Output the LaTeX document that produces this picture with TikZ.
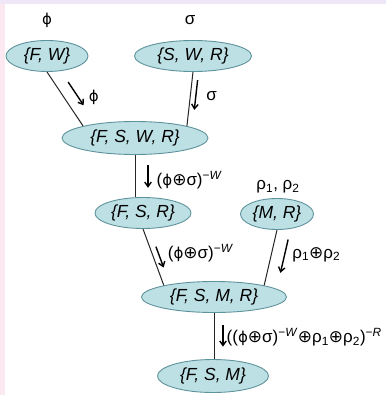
\documentclass[tikz,border=0pt]{standalone}
\usepackage{fontspec}
\setmainfont{Liberation Sans}
\newfontfamily\dejavu{DejaVu Sans}
\usepackage{tikz}
\usetikzlibrary{arrows.meta,calc,shapes.geometric}
\definecolor{cliquefill}{HTML}{BDE0E4}
\definecolor{cliqueedge}{HTML}{5F939C}
\definecolor{bandlilac}{HTML}{EFE6F7}
\definecolor{bandpink}{HTML}{FCE8F0}
\newcommand{\mrg}{{\dejavu ⊕}}
\newcommand{\phis}{{\dejavu\fontsize{15}{18}\selectfont ϕ}}
\newcommand{\mnus}[1]{\textsuperscript{−\textit{#1}}}

\begin{document}
\begin{tikzpicture}[x=1pt,y=-1pt,>={Straight Barb[length=4.5pt,width=6.5pt]},
    clique/.style={ellipse,draw=cliqueedge,fill=cliquefill,line width=0.9pt,
      inner sep=0pt,font=\fontsize{17.5}{20}\selectfont\itshape},
    link/.style={draw=black!85,line width=1pt},
    msg/.style={->,line width=1.4pt},
    lbl/.style={font=\fontsize{17}{20}\selectfont,inner sep=1pt}]
    % Page with its coloured edges.
    \useasboundingbox (0,0) rectangle (386,395);
    \fill[white] (0,0) rectangle (386,395);
    \fill[bandpink] (0,0) rectangle (5,395);
    \fill[bandlilac] (0,0) rectangle (386,4);

    % Cliques of the junction tree.
    \node[clique,minimum width=82,minimum height=31] (FW) at (47,56) {\{F, W\}};
    \node[clique,minimum width=117,minimum height=31] (SWR) at (193,56) {\{S, W, R\}};
    \node[clique,minimum width=146,minimum height=33] (FSWR) at (135,138) {\{F, S, W, R\}};
    \node[clique,minimum width=96,minimum height=31] (FSR) at (143,213) {\{F, S, R\}};
    \node[clique,minimum width=73,minimum height=31] (MR) at (277,214) {\{M, R\}};
    \node[clique,minimum width=145,minimum height=31] (FSMR) at (214,297) {\{F, S, M, R\}};
    \node[clique,minimum width=111,minimum height=33] (FSM) at (213,376) {\{F, S, M\}};

    % Potentials attached to the leaves.
    \node[lbl] (phi) at (47,20) {\phis};
    \node[lbl] (sigma) at (190,20) {σ};
    \node[lbl] (rho) at (278,187) {ρ\textsubscript{1}, ρ\textsubscript{2}};

    % Tree edges.
    \coordinate (FSRtop) at (FSWR.south |- FSR.north);
    \coordinate (FSMtop) at (FSMR.south |- FSM.north);
    \draw[link] (FW.south) -- (FSWR.167);
    \draw[link] (SWR.south) -- (FSWR.13);
    \draw[link] (FSWR.south) -- (FSRtop);
    \draw[link] (FSR.south) -- (FSMR.167);
    \draw[link] (MR.south) -- (FSMR.13);
    \draw[link] (FSMR.south) -- (FSMtop);

    % Messages passed along the edges.
    \draw[msg] ($(FW.south)!0.31!(FSWR.167)!12pt!90:(FSWR.167)$)
      -- ($(FW.south)!0.74!(FSWR.167)!12pt!90:(FSWR.167)$)
      node[lbl,pos=0.65,right=9pt] {\phis};
    \draw[msg] ($(SWR.south)!0.14!(FSWR.13)!5.5pt!90:(FSWR.13)$)
      -- ($(SWR.south)!0.69!(FSWR.13)!5.5pt!90:(FSWR.13)$)
      node[lbl,pos=0.55,right=9pt] {σ};
    \draw[msg] ($(FSWR.south)!0.24!(FSRtop)!13pt!90:(FSRtop)$)
      -- ($(FSWR.south)!0.78!(FSRtop)!13pt!90:(FSRtop)$)
      node[lbl,pos=0.65,right=7pt] {(\phis\mrg σ)\mnus{W}};
    \draw[msg] ($(FSR.south)!0.35!(FSMR.167)!6pt!90:(FSMR.167)$)
      -- ($(FSR.south)!0.72!(FSMR.167)!6pt!90:(FSMR.167)$)
      node[lbl,pos=0.3,right=8pt] {(\phis\mrg σ)\mnus{W}};
    \draw[msg] ($(MR.south)!0.12!(FSMR.13)!13pt!90:(FSMR.13)$)
      -- ($(MR.south)!0.72!(FSMR.13)!13pt!90:(FSMR.13)$)
      node[lbl,pos=0.45,right=6pt] {ρ\textsubscript{1}\mrg ρ\textsubscript{2}};
    \draw[msg] ($(FSMR.south)!0.27!(FSMtop)!9pt!90:(FSMtop)$)
      -- ($(FSMR.south)!0.73!(FSMtop)!9pt!90:(FSMtop)$)
      node[lbl,pos=0.55,right=2pt]
      {((\phis\mrg σ)\mnus{W}\mrg ρ\textsubscript{1}\mrg ρ\textsubscript{2})\mnus{R}};
  \end{tikzpicture}
\end{document}
